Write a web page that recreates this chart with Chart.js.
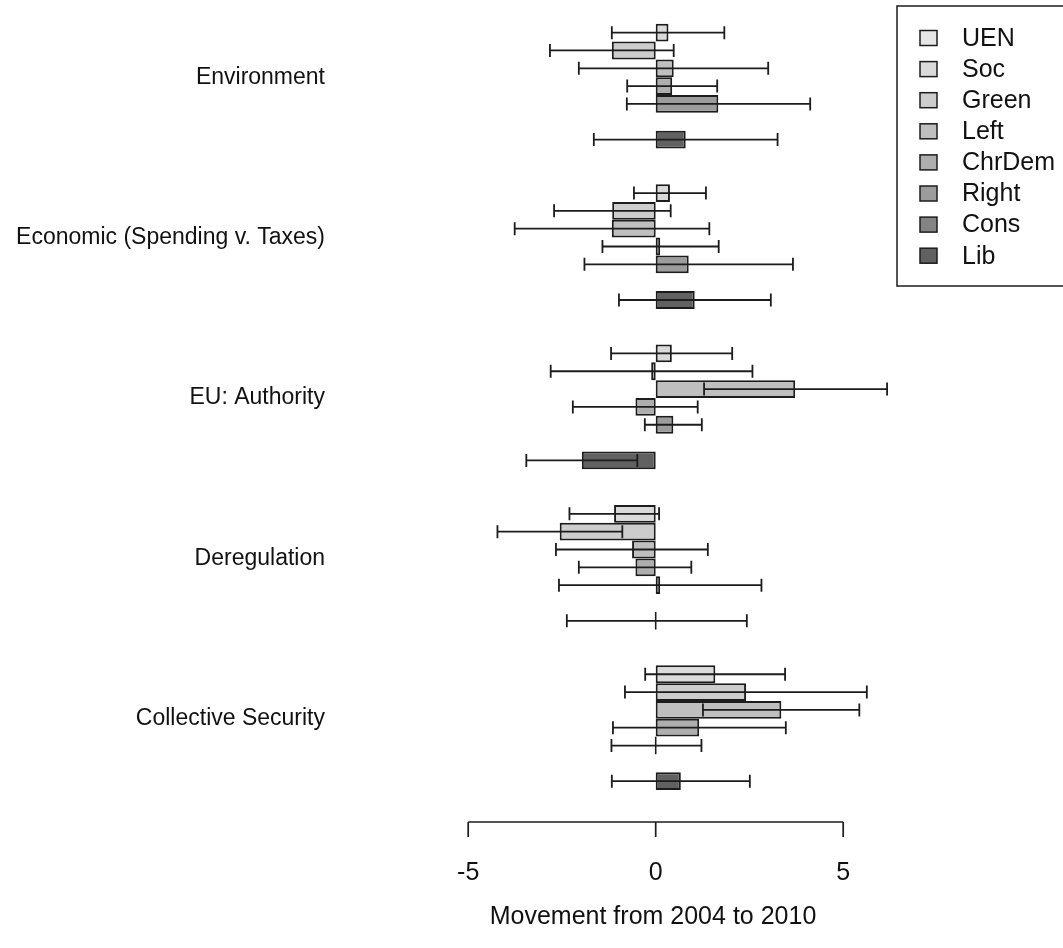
<!DOCTYPE html>
<html>
<head>
<meta charset="utf-8">
<script src="https://cdn.jsdelivr.net/npm/chart.js@4"></script>
<style>
  html, body { margin: 0; padding: 0; background: #fff; overflow: hidden; }
  #wrap { position: absolute; left: 0; top: -3px; width: 1063px; height: 951px; }
</style>
</head>
<body>
<div id="wrap"><canvas id="chart" width="1063" height="951"></canvas></div>
<script>
const issues = ['Environment', 'Economic (Spending v. Taxes)', 'EU: Authority', 'Deregulation', 'Collective Security'];
const parties = ['UEN', 'Soc', 'Green', 'Left', 'ChrDem', 'Right', 'Cons', 'Lib'];
const partyColors = ['#e6e6e6', '#dadada', '#cdcdcd', '#bfbfbf', '#aeaeae', '#9c9c9c', '#848484', '#616161'];
const xTicks = [-5, 0, 5];

// movement per issue (null = no estimate)
const uen    = [null, null, null, null, null];
const soc    = [0.34, 0.38, 0.43, -1.11, 1.59];
const green  = [-1.17, -1.16, -0.12, -2.56, 2.41];
const left   = [0.48, -1.17, 3.72, -0.63, 3.35];
const chrDem = [0.44, 0.12, -0.54, -0.54, 1.16];
const right  = [1.67, 0.88, 0.47, 0.12, 0];
const cons   = [null, null, null, null, null];
const lib    = [0.80, 1.04, -1.97, 0, 0.67];

// interval ends
const socLo    = [-1.17, -0.58, -1.19, -2.30, -0.28];
const socHi    = [1.83, 1.34, 2.04, 0.09, 3.45];
const greenLo  = [-2.82, -2.71, -2.80, -4.22, -0.82];
const greenHi  = [0.48, 0.40, 2.58, -0.89, 5.63];
const leftLo   = [-2.05, -3.76, 1.29, -2.66, 1.26];
const leftHi   = [3.00, 1.43, 6.17, 1.39, 5.43];
const chrDemLo = [-0.76, -1.42, -2.21, -2.05, -1.14];
const chrDemHi = [1.64, 1.68, 1.12, 0.95, 3.47];
const rightLo  = [-0.77, -1.90, -0.29, -2.58, -1.18];
const rightHi  = [4.12, 3.66, 1.23, 2.82, 1.22];
const libLo    = [-1.65, -0.98, -3.45, -2.37, -1.17];
const libHi    = [3.25, 3.07, -0.49, 2.43, 2.51];

const values = [uen, soc, green, left, chrDem, right, cons, lib];
const lows = [null, socLo, greenLo, leftLo, chrDemLo, rightLo, null, libLo];
const highs = [null, socHi, greenHi, leftHi, chrDemHi, rightHi, null, libHi];

const INK = '#1c1c1c';
const FONT = "'Liberation Sans', Arial, Helvetica, sans-serif";

// error bars drawn from the x scale
const errorBars = {
  id: 'errorBars',
  afterDatasetsDraw(chart) {
    const ctx = chart.ctx;
    const xs = chart.scales.x;
    ctx.save();
    ctx.strokeStyle = INK;
    ctx.lineWidth = 1.8;
    chart.data.datasets.forEach((ds, i) => {
      if (!ds.lo) return;
      const meta = chart.getDatasetMeta(i);
      meta.data.forEach((bar, j) => {
        if (ds.data[j] == null) return;
        const y = bar.y;
        const x1 = xs.getPixelForValue(ds.lo[j]);
        const x2 = xs.getPixelForValue(ds.hi[j]);
        ctx.beginPath();
        ctx.moveTo(x1, y); ctx.lineTo(x2, y);
        ctx.moveTo(x1, y - 6.5); ctx.lineTo(x1, y + 6.5);
        ctx.moveTo(x2, y - 6.5); ctx.lineTo(x2, y + 6.5);
        ctx.stroke();
      });
    });
    ctx.restore();
  }
};

// R style axis: line only between first and last tick
const rAxis = {
  id: 'rAxis',
  afterDraw(chart) {
    const ctx = chart.ctx;
    const xs = chart.scales.x;
    const y = chart.chartArea.bottom + 23;
    const px = xs.ticks.map(t => xs.getPixelForValue(t.value));
    ctx.save();
    ctx.strokeStyle = INK;
    ctx.lineWidth = 1.7;
    ctx.beginPath();
    ctx.moveTo(px[0], y); ctx.lineTo(px[px.length - 1], y);
    px.forEach(p => { ctx.moveTo(p, y); ctx.lineTo(p, y + 15); });
    ctx.stroke();
    ctx.restore();
  }
};

// boxed legend in the top right corner
const boxLegend = {
  id: 'boxLegend',
  afterDraw(chart) {
    const ctx = chart.ctx;
    ctx.save();
    ctx.strokeStyle = INK;
    ctx.lineWidth = 1.5;
    ctx.strokeRect(897, 9, 200, 280);
    ctx.font = '25px ' + FONT;
    ctx.textBaseline = 'middle';
    chart.data.datasets.forEach((ds, i) => {
      const cy = 41 + i * 31.1;
      ctx.fillStyle = ds.backgroundColor;
      ctx.fillRect(920, cy - 7.5, 17, 15);
      ctx.strokeRect(920, cy - 7.5, 17, 15);
      ctx.fillStyle = '#111';
      ctx.fillText(ds.label, 962, cy + 1);
    });
    ctx.restore();
  }
};

new Chart(document.getElementById('chart'), {
  type: 'bar',
  data: {
    labels: issues,
    datasets: parties.map((p, i) => ({
      label: p,
      data: values[i],
      lo: lows[i],
      hi: highs[i],
      backgroundColor: partyColors[i],
      borderColor: INK
    }))
  },
  options: {
    indexAxis: 'y',
    responsive: false,
    animation: false,
    layout: { padding: { left: 0, right: 92, top: 0, bottom: 0 } },
    datasets: {
      bar: {
        categoryPercentage: 8 / 9,
        barPercentage: 1,
        borderWidth: 2,
        borderSkipped: false,
        minBarLength: 2
      }
    },
    plugins: { legend: { display: false }, tooltip: { enabled: false } },
    scales: {
      x: {
        type: 'linear',
        min: -8.552,
        max: 8.408,
        afterBuildTicks: s => { s.ticks = xTicks.map(v => ({ value: v })); },
        afterFit: s => { s.height = 149; s.paddingLeft = 0; s.paddingRight = 0; },
        grid: { display: false, drawTicks: false },
        border: { display: false },
        ticks: { padding: 59, color: '#111', font: { family: FONT, size: 25 } },
        title: {
          display: true,
          text: 'Movement from 2004 to 2010',
          color: '#111',
          font: { family: FONT, size: 25 },
          padding: { top: 10, bottom: 16 }
        }
      },
      y: {
        type: 'category',
        grid: { display: false, drawTicks: false },
        border: { display: false },
        ticks: { padding: 10, color: '#111', font: { family: FONT, size: 23 } },
        afterFit: s => { s.width = 335; s.paddingTop = 0; s.paddingBottom = 0; }
      }
    }
  },
  plugins: [errorBars, rAxis, boxLegend]
});
</script>
</body>
</html>
